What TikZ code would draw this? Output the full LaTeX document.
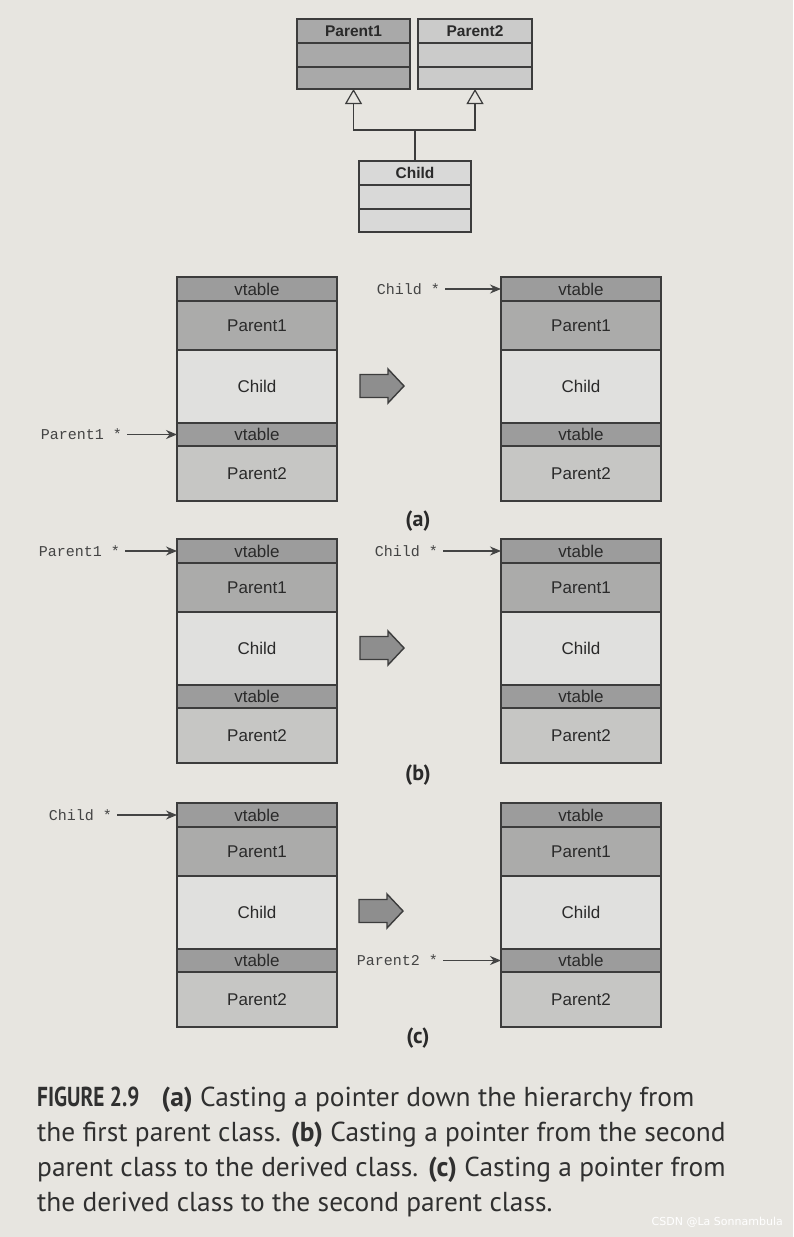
\documentclass[tikz,border=0pt]{standalone}
\usepackage{fontspec}
\setmainfont{PT Sans}
\newfontfamily\boxfont{Liberation Sans}
\newfontfamily\codefont{Liberation Mono}
\newfontfamily\figfont[FakeStretch=0.78]{PT Sans}
\newfontfamily\wmfont{DejaVu Sans}
\usetikzlibrary{arrows.meta,calc}
\definecolor{bgc}{HTML}{E7E5E0}
\definecolor{bordc}{HTML}{3C3C3C}
\definecolor{txtc}{HTML}{2A2A2A}
\definecolor{ptrc}{HTML}{444444}
\definecolor{vtf}{HTML}{9C9C9C}
\definecolor{p1f}{HTML}{ABABAA}
\definecolor{chf}{HTML}{E0E0DE}
\definecolor{p2f}{HTML}{C6C6C4}
\definecolor{arrf}{HTML}{8E8E8E}
\definecolor{u1f}{HTML}{A9A9A9}
\definecolor{u2f}{HTML}{CBCBCA}
\definecolor{ucf}{HTML}{D9D9D8}
\definecolor{capc}{HTML}{303030}
\newcommand\memstack[3]{%
  \node[vt, anchor=north west] (#1v1) at (#2,#3) {vtable};
  \node[pa, anchor=north] (#1p1) at (#1v1.south) {Parent1};
  \node[ch, anchor=north] (#1ch) at (#1p1.south) {Child};
  \node[vt, minimum height=23pt, anchor=north] (#1v2) at (#1ch.south) {vtable};
  \node[pb, anchor=north] (#1p2) at (#1v2.south) {Parent2};
}
\newcommand\castarrow[1]{%
  \draw[castarrowstyle] (#1) ++(-22,-11.5) -- ++(28,0) -- ++(0,-5.5) -- ++(16,17) -- ++(-16,17) -- ++(0,-5.5) -- ++(-28,0) -- cycle;
}
\begin{document}
\begin{tikzpicture}[x=1pt,y=-1pt,
  seg/.style={draw=bordc, line width=1.6pt, inner sep=0pt, outer sep=0pt, minimum width=160pt, font=\boxfont\fontsize{17}{19}\selectfont, text=txtc},
  vt/.style={seg, fill=vtf, minimum height=24pt},
  pa/.style={seg, fill=p1f, minimum height=49pt},
  ch/.style={seg, fill=chf, minimum height=73pt},
  pb/.style={seg, fill=p2f, minimum height=55pt},
  ptrlabel/.style={font=\codefont\fontsize{15}{17}\selectfont, text=ptrc, inner sep=0pt, anchor=east},
  ptrarrow/.style={-{Stealth[length=11pt,width=9pt]}, line width=1.3pt, draw=ptrc, shorten <=5pt},
  castarrowstyle/.style={draw=bordc, fill=arrf, line width=1.4pt, line join=miter},
  panellabel/.style={font=\bfseries\fontsize{22}{24}\selectfont, text=txtc, inner sep=0pt},
  umlseg/.style={draw=bordc, line width=1.4pt, inner sep=0pt, outer sep=0pt, font=\boxfont\bfseries\fontsize{15.5}{17}\selectfont, text=txtc},
  inh/.style={draw=bordc, line width=1.3pt, -{Triangle[open, length=15pt, width=17pt, line width=1.2pt]}}
]
\fill[bgc] (0,0) rectangle (793,1237);
\useasboundingbox (0,0) rectangle (793,1237);

% UML class diagram
\node[umlseg, fill=u1f, minimum width=113pt, minimum height=24pt, anchor=north west] (u1a) at (297,19) {Parent1};
\node[umlseg, fill=u1f, minimum width=113pt, minimum height=24pt, anchor=north] (u1b) at (u1a.south) {};
\node[umlseg, fill=u1f, minimum width=113pt, minimum height=22pt, anchor=north] (u1c) at (u1b.south) {};
\node[umlseg, fill=u2f, minimum width=114pt, minimum height=24pt, anchor=north west] (u2a) at (418,19) {Parent2};
\node[umlseg, fill=u2f, minimum width=114pt, minimum height=24pt, anchor=north] (u2b) at (u2a.south) {};
\node[umlseg, fill=u2f, minimum width=114pt, minimum height=22pt, anchor=north] (u2c) at (u2b.south) {};
\node[umlseg, fill=ucf, minimum width=112pt, minimum height=24pt, anchor=north west] (uca) at (359,161) {Child};
\node[umlseg, fill=ucf, minimum width=112pt, minimum height=24pt, anchor=north] (ucb) at (uca.south) {};
\node[umlseg, fill=ucf, minimum width=112pt, minimum height=23pt, anchor=north] (ucc) at (ucb.south) {};
\coordinate (jy) at (0,130);
\coordinate (j) at (uca.north |- jy);
\draw[inh] (uca.north) -- (j) -| (u1c.south);
\draw[inh] (j) -| (u2c.south);

% panel (a)
\memstack{aL}{177}{277}
\memstack{aR}{501}{277}
\coordinate (aC) at (382,386);
\castarrow{aC}
\node[ptrlabel] (aLp) at ($(aLv2.west)+(-55,0)$) {Parent1 *};
\draw[ptrarrow] (aLp.east) -- (aLv2.west);
\node[ptrlabel] (aRp) at ($(aRv1.west)+(-61,0)$) {Child *};
\draw[ptrarrow] (aRp.east) -- (aRv1.west);
\node[panellabel] (la) at (418,521) {(a)};

% panel (b)
\memstack{bL}{177}{539}
\memstack{bR}{501}{539}
\coordinate (bC) at (382,648);
\castarrow{bC}
\node[ptrlabel] (bLp) at ($(bLv1.west)+(-57,0)$) {Parent1 *};
\draw[ptrarrow] (bLp.east) -- (bLv1.west);
\node[ptrlabel] (bRp) at ($(bRv1.west)+(-63,0)$) {Child *};
\draw[ptrarrow] (bRp.east) -- (bRv1.west);
\node[panellabel] (lb) at (418,775) {(b)};

% panel (c)
\memstack{cL}{177}{803}
\memstack{cR}{501}{803}
\coordinate (cC) at (381,911);
\castarrow{cC}
\node[ptrlabel] (cLp) at ($(cLv1.west)+(-65,0)$) {Child *};
\draw[ptrarrow] (cLp.east) -- (cLv1.west);
\node[ptrlabel] (cRp) at ($(cRv2.west)+(-63,0)$) {Parent2 *};
\draw[ptrarrow] (cRp.east) -- (cRv2.west);
\node[panellabel] (lc) at (418,1038) {(c)};

% caption
\node[anchor=north west, align=left, inner sep=0pt, font=\fontsize{27.4}{35}\selectfont, text=capc] (cap) at (37,1087)
 {{\figfont\bfseries FIGURE 2.9}\hspace{0.8em}\textbf{(a)} Casting a pointer down the hierarchy from\\
  the first parent class. \textbf{(b)} Casting a pointer from the second\\
  parent class to the derived class. \textbf{(c)} Casting a pointer from\\
  the derived class to the second parent class.};

\node[anchor=east, inner sep=0pt, font=\wmfont\fontsize{11}{13}\selectfont, text=white] (wm) at (783,1222) {CSDN @La Sonnambula};
\end{tikzpicture}
\end{document}
